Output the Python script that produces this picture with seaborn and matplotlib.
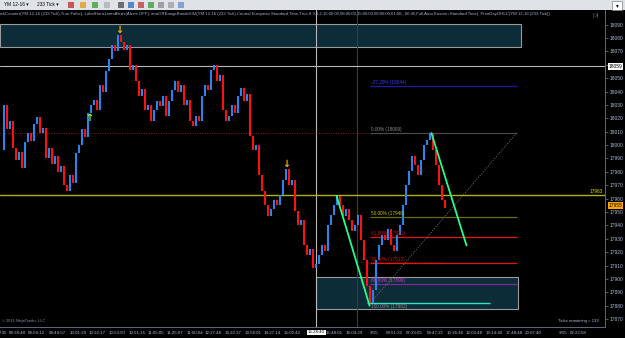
import matplotlib
matplotlib.use("Agg")
import matplotlib.pyplot as plt
import matplotlib.transforms as mtransforms
from matplotlib.patches import Rectangle
import numpy as np
import pandas as pd
import seaborn as sns

# ---------------- data ----------------
closes = [17996, 18030, 18012, 18018, 17998, 17989, 17995, 17983, 18002, 18009,
          18003, 18016, 18021, 18009, 18013, 17990, 17998, 17986, 17992, 17980,
          17984, 17970, 17966, 17978, 17972, 17994, 18000, 18012, 18006, 18024,
          18030, 18034, 18026, 18045, 18040, 18055, 18064, 18075, 18070, 18082,
          18077, 18071, 18075, 18056, 18060, 18048, 18037, 18042, 18026, 18030,
          18018, 18026, 18033, 18029, 18037, 18022, 18033, 18041, 18048, 18040,
          18045, 18030, 18034, 18018, 18014, 18022, 18018, 18037, 18045, 18041,
          18056, 18060, 18048, 18052, 18026, 18018, 18022, 18030, 18024, 18037,
          18043, 18033, 18038, 18007, 17996, 18000, 17978, 17966, 17955, 17947,
          17952, 17959, 17955, 17963, 17974, 17982, 17970, 17974, 17951, 17940,
          17944, 17925, 17918, 17922, 17908, 17911, 17918, 17925, 17921, 17940,
          17948, 17955, 17962, 17955, 17947, 17952, 17944, 17936, 17940, 17948,
          17929, 17914, 17895, 17882, 17892, 17914, 17925, 17933, 17929, 17937,
          17925, 17921, 17933, 17940, 17955, 17970, 17981, 17992, 17985, 17978,
          17989, 18000, 18004, 18009, 17996, 17985, 17970, 17959, 17953]

time_tick_pos = [0.5, 5.2, 11.8, 18.5, 25.5, 31.8, 38.5, 45.2, 51.5, 57.8, 64.5,
                 70.5, 77.2, 83.8, 90.2, 96.8, 110.8, 117.5, 124.2, 130.8, 137.5,
                 144.5, 151.2, 157.5, 164.2, 170.8, 177.2, 187.2, 192.2]
time_tick_labels = ["7:35", "09:38:48", "09:59:12", "09:49:57", "10:01:29", "10:22:17",
                    "10:53:50", "10:51:15", "11:05:05", "11:25:07", "11:50:04", "12:27:48",
                    "13:22:37", "13:58:01", "14:27:14", "15:02:42", "15:48:01", "16:04:29",
                    "9/15", "03:51:32", "07:23:05", "08:47:22", "10:36:40", "12:03:48",
                    "13:14:40", "17:48:48", "20:07:40", "9/15", "02:22:58"]
price_ticks = list(range(17870, 18091, 10))

fib_labels = ["-27.20% (18044)", "0.00% (18009)", "50.00% (17946)", "61.80% (17931)",
              "76.40% (17912)", "88.60% (17896)", "100.00% (17882)"]
fib_prices = [18044, 18009, 17946, 17931, 17912, 17896, 17882]
fib_line_colors = ["#1c1ca8", "#4a4a4a", "#6f6a12", "#e31414", "#e31414", "#7e2a96", "#2fe3c3"]
fib_text_colors = ["#3a3aff", "#8c8c8c", "#d2c000", "#d81010", "#d81010", "#d43cd4", "#8c8c8c"]
fib_start, fib_end = 123.0, 171.7

swing_down1_x, swing_down1_y = [111.7, 122.7], [17962, 17880]
swing_down2_x, swing_down2_y = [143.3, 155.0], [18009, 17925]

top_zone = (18073.3, 18090.5)
bottom_zone = (17877.6, 17901.5)
yellow_level = 17963
last_price = 17955
cross_price = 18059
cross_bar = 105.0
cross_time = "15:28:40"
day_break_bar = 118.5
prior_high = 18009
prior_low_dotted = 17912.6

indicator_text = ("ickCounter(YM 12-16 (233 Tick),True,False), LabelHorizLinesAlerts(Alerts OFF), "
                  "anaOREangeBandsV42(YM 12-16 (233 Tick),Central European Standard Time,True,8,3,1,2,"
                  "15:00:00,08:00:00,15:00:00,08:00:00,01:00,- 00:45,Full,Auto,Eastern Standard Time), "
                  "PriorDayOHLC(YM 12-16 (233 Tick))")

# ---------------- style ----------------
sns.set_style("dark", {"axes.facecolor": "black", "figure.facecolor": "black"})
plt.rcParams["font.family"] = ["Liberation Sans", "DejaVu Sans"]

W, H = 625, 338
fig = plt.figure(figsize=(W / 100, H / 100), dpi=100)
fig.patch.set_facecolor("black")
ax = fig.add_axes([0, 11 / H, 605 / W, 317 / H])
ax.set_facecolor("black")

df = pd.DataFrame({"bar": np.arange(len(closes)), "close": closes})
df["open"] = df["close"].shift(1).fillna(df["close"])
df["up"] = df["close"] >= df["open"]

ax.set_xlim(-0.5, 201.17)
ax.set_ylim(17864.1, 18100.9)

# zones
for lo, hi, x0, x1 in [(top_zone[0], top_zone[1], -0.5, 173.3),
                       (bottom_zone[0], bottom_zone[1], 105.0, 172.3)]:
    ax.add_patch(Rectangle((x0, lo), x1 - x0, hi - lo, facecolor="#0c2c38",
                           edgecolor="#9a9a9a", lw=0.8, zorder=1))

# crosshair / separators
ax.axvline(day_break_bar, color="#3c3c3c", lw=0.8, zorder=1.5)
ax.axvline(cross_bar, color="#b8b8b8", lw=0.8, zorder=1.5)
ax.axhline(cross_price, color="#b8b8b8", lw=0.8, zorder=1.5)
ax.axhline(yellow_level, color="#b5b000", lw=1.0, zorder=1.6)
ax.hlines(prior_high, -0.5, 123, color="#8b1a1a", lw=0.7, ls=(0, (1, 1.5)), zorder=1.6)
ax.hlines(prior_low_dotted, 119, 146.7, color="#8b1a1a", lw=0.7, ls=(0, (1, 1.5)), zorder=1.6)

# fib levels
for lab, p, lc, tc in zip(fib_labels, fib_prices, fib_line_colors, fib_text_colors):
    if lab.startswith("100"):
        ax.hlines(p, 121.7, 162.7, color=lc, lw=1.0, zorder=2)
        ax.text(fib_start + 0.3, p - 0.8, lab, color=tc, fontsize=3.4, va="top", ha="left", zorder=5)
    else:
        ax.hlines(p, fib_start, fib_end, color=lc, lw=0.9, zorder=2)
        ax.text(fib_start + 0.3, p + 0.8, lab, color=tc, fontsize=3.4, va="bottom", ha="left", zorder=5)

fib_diag = pd.DataFrame({"x": [fib_start, fib_end], "y": [fib_prices[-1], fib_prices[1]]})
sns.lineplot(data=fib_diag, x="x", y="y", ax=ax, color="#6a6a6a", lw=0.6,
             linestyle=(0, (1.5, 1.5)), zorder=2)

# price bars
cols = np.where(df["up"], "#2a84ee", "#ff1010")
ax.vlines(df["bar"], df[["open", "close"]].min(axis=1), df[["open", "close"]].max(axis=1),
          colors=cols, lw=1.5, zorder=3)

# swing lines
for sx, sy in [(swing_down1_x, swing_down1_y), (swing_down2_x, swing_down2_y)]:
    sns.lineplot(x=sx, y=sy, ax=ax, color="#22ff88", lw=1.3, zorder=4)

# signal arrows
ax.text(39.3, 18082, "↓", color="#ffb000", fontsize=7, ha="center", va="bottom",
        family="DejaVu Sans", fontweight="bold", zorder=6)
ax.text(95.0, 17982, "↓", color="#ffb000", fontsize=7, ha="center", va="bottom",
        family="DejaVu Sans", fontweight="bold", zorder=6)
ax.text(29.3, 18024, "↑", color="#9cff00", fontsize=7, ha="center", va="top",
        family="DejaVu Sans", fontweight="bold", zorder=6)

ax.text(200.6, yellow_level + 0.5, str(yellow_level), color="#e0e000", fontsize=3.4,
        ha="right", va="bottom", zorder=6)

# axes ticks
ax.yaxis.tick_right()
ax.set_yticks(price_ticks)
ax.set_yticklabels([str(p) for p in price_ticks])
ax.set_xticks(time_tick_pos)
ax.set_xticklabels(time_tick_labels)
ax.tick_params(axis="y", colors="#5a6a80", labelcolor="#a9bcd6", labelsize=3.5,
               length=2, width=0.6, pad=1.0, right=True, left=False)
ax.tick_params(axis="x", colors="#5a6a80", labelcolor="#a9bcd6", labelsize=3.2,
               length=2, width=0.6, pad=1.0)
ax.set_xlabel("")
ax.set_ylabel("")
ax.grid(False)
for s in ["top", "left"]:
    ax.spines[s].set_visible(False)
for s in ["right", "bottom"]:
    ax.spines[s].set_visible(True)
    ax.spines[s].set_color("#5a6a80")
    ax.spines[s].set_linewidth(0.7)

# axis labels for crosshair / last price
tr_y = mtransforms.blended_transform_factory(ax.transAxes, ax.transData)
tr_x = mtransforms.blended_transform_factory(ax.transData, ax.transAxes)
ax.text(1.006, cross_price, str(cross_price), transform=tr_y, fontsize=3.5, color="black",
        ha="left", va="center", bbox=dict(boxstyle="square,pad=0.2", fc="white", ec="none"),
        clip_on=False, zorder=7)
ax.text(1.006, last_price, str(last_price), transform=tr_y, fontsize=3.5, color="black",
        ha="left", va="center", bbox=dict(boxstyle="square,pad=0.2", fc="#ffa500", ec="none"),
        clip_on=False, zorder=7)
ax.text(cross_bar, -0.011, cross_time, transform=tr_x, fontsize=3.2, color="black",
        ha="center", va="top", bbox=dict(boxstyle="square,pad=0.2", fc="white", ec="none"),
        clip_on=False, zorder=7)

# footer texts
ax.text(0.003, 0.012, "© 2016 NinjaTrader, LLC", transform=ax.transAxes, fontsize=2.8,
        color="#7f95b5", ha="left", va="bottom")
ax.text(0.99, 0.012, "Ticks remaining = 139", transform=ax.transAxes, fontsize=3.1,
        color="#a9bcd6", ha="right", va="bottom")

# toolbar & header
fig.patches.append(Rectangle((0, 1 - 10 / H), 1, 10 / H, transform=fig.transFigure,
                             facecolor="#dfe3e8", edgecolor="none", zorder=0))
fig.text(4 / W, 1 - 5 / H, "YM 12-16 ▾", fontsize=3.4, color="black", va="center")
fig.text(37 / W, 1 - 5 / H, "233 Tick ▾", fontsize=3.4, color="black", va="center")
for px, c in [(68, "#c83030"), (80, "#e0a020"), (92, "#40a040"), (104, "#b0b0b0"),
              (118, "#505050"), (128, "#3070c0"), (138, "#c04040"), (148, "#40a040"),
              (158, "#909090"), (168, "#a0a0a0"), (178, "#7090d0")]:
    fig.patches.append(Rectangle((px / W, 1 - 8 / H), 6 / W, 6 / H, transform=fig.transFigure,
                                 facecolor=c, edgecolor="none", alpha=0.8))
fig.patches.append(Rectangle((612 / W, 1 - 10 / H), 10 / W, 9 / H, transform=fig.transFigure,
                             facecolor="white", edgecolor="#808080", lw=0.5))
fig.text(617 / W, 1 - 5.5 / H, "▾", fontsize=4, color="black", ha="center", va="center")
fig.text(596 / W, 1 - 16 / H, "▷|", fontsize=4.5, color="#6a7fa0", ha="center", va="center")
fig.text(0.5 / W, 1 - 14 / H, indicator_text, fontsize=3.1, color="#9db3cf", va="center", ha="left")

fig.savefig("out.png", dpi=100, facecolor="black")
